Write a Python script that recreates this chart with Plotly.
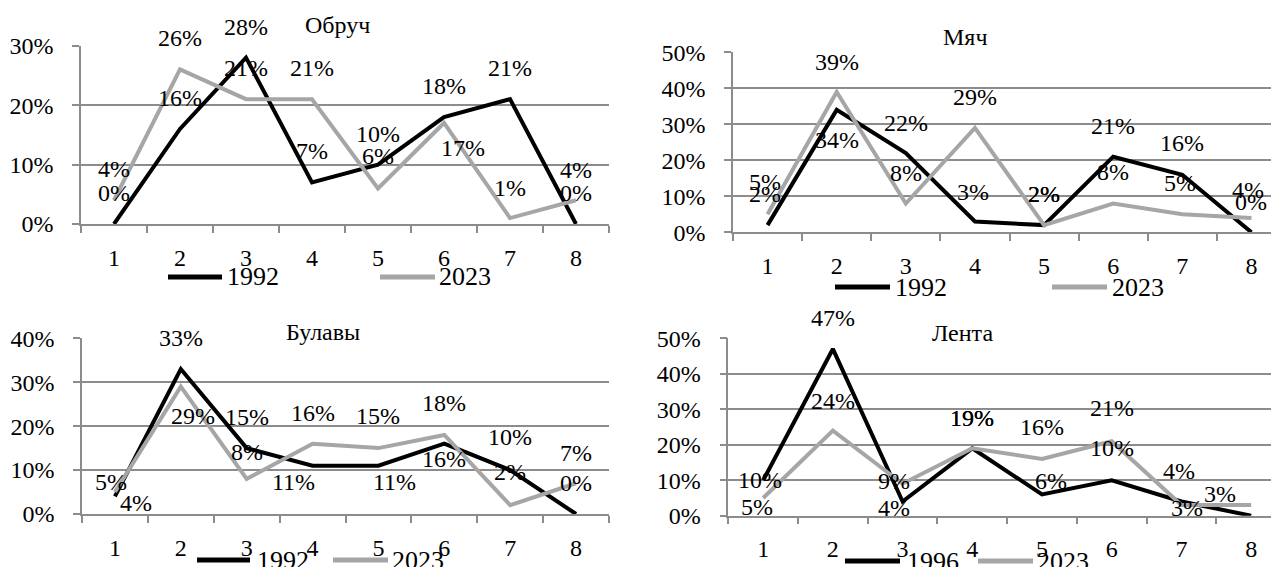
import plotly.graph_objects as go

# ---------------- data ----------------
categories = ["1", "2", "3", "4", "5", "6", "7", "8"]

hoop_title = "Обруч"
hoop_1992 = [0, 16, 28, 7, 10, 18, 21, 0]
hoop_2023 = [4, 26, 21, 21, 6, 17, 1, 4]

ball_title = "Мяч"
ball_1992 = [2, 34, 22, 3, 2, 21, 16, 0]
ball_2023 = [5, 39, 8, 29, 2, 8, 5, 4]

clubs_title = "Булавы"
clubs_1992 = [4, 33, 15, 11, 11, 16, 10, 0]
clubs_2023 = [5, 29, 8, 16, 15, 18, 2, 7]

ribbon_title = "Лента"
ribbon_1996 = [10, 47, 4, 19, 6, 10, 4, 0]
ribbon_2023 = [5, 24, 9, 19, 16, 21, 3, 3]

# ---------------- styles / label offsets (pixels) ----------------
W, H = 1279, 567
OFF = 8  # page body margin
FONT = "Liberation Serif"
BLACK = "#000000"
GRAY = "#a6a6a6"
GRID = "#8c8c8c"
FS = 24

hoop_1992_off = [(0, 31)] * 8
hoop_2023_off = [(0, 31), (0, 31), (0, 31), (0, 31), (0, 32), (19, -25), (0, 30), (0, 30)]
ball_1992_off = [(-3, 31), (0, -30), (0, 30), (-2, 29), (0, 31), (0, 31), (0, 32), (0, 30)]
ball_2023_off = [(-3, 32), (0, 30), (0, 30), (0, 31), (0, 31), (0, 31), (-2, 31), (-3, 28)]
clubs_1992_off = [(21, -7), (0, 31), (0, 31), (-19, -16), (16, -16), (0, -15), (0, 33), (0, 31)]
clubs_2023_off = [(-4, 10), (12, -29), (0, 27), (0, 31), (0, 32), (0, 32), (0, 33), (0, 30)]
ribbon_1996_off = [(-3, 0), (0, 31), (-9, -6), (0, 30), (9, 13), (0, 32), (-2, 31), None]
ribbon_2023_off = [(-6, -9), (0, 30), (-9, 3), (0, 30), (0, 32), (0, 33), (6, -3), (-31, 11)]


def px_x(p):
    return (p - OFF) / W


def px_y(p):
    return 1 - (p - OFF) / H


panels = [
    dict(title=hoop_title, s1=("1992", hoop_1992, hoop_1992_off), s2=("2023", hoop_2023, hoop_2023_off),
         xdom=(81, 609), xr=(-0.5, 7.5), ydom=(224, 45.7), yr=(0, 30),
         tpos=(337, 25), leg=[(168, 222, 225, 277), (380, 435, 437, 277)]),
    dict(title=ball_title, s1=("1992", ball_1992, ball_1992_off), s2=("2023", ball_2023, ball_2023_off),
         xdom=(733, 1286), xr=(-0.5, 7.5), ydom=(232.3, 52.3), yr=(0, 50),
         tpos=(965, 37), leg=[(835, 890, 893, 287), (1052, 1107, 1110, 287)]),
    dict(title=clubs_title, s1=("1992", clubs_1992, clubs_1992_off), s2=("2023", clubs_2023, clubs_2023_off),
         xdom=(82, 609), xr=(-0.5, 7.5), ydom=(514, 338.3), yr=(0, 40),
         tpos=(323, 332), leg=[(197, 250, 255, 560), (333, 388, 390, 560)]),
    dict(title=ribbon_title, s1=("1996", ribbon_1996, ribbon_1996_off), s2=("2023", ribbon_2023, ribbon_2023_off),
         xdom=(728.3, 1286), xr=(-0.5, 7.5), ydom=(515.7, 338.3), yr=(0, 50),
         tpos=(962, 333), leg=[(845, 900, 905, 561), (978, 1033, 1035, 561)]),
]

fig = go.Figure()
annotations = []
shapes = []

for i, p in enumerate(panels, start=1):
    xa = "x" if i == 1 else f"x{i}"
    ya = "y" if i == 1 else f"y{i}"
    xkey = "xaxis" if i == 1 else f"xaxis{i}"
    ykey = "yaxis" if i == 1 else f"yaxis{i}"

    for (name, vals, offs), color in ((p["s1"], BLACK), (p["s2"], GRAY)):
        fig.add_trace(go.Scatter(
            x=categories, y=vals, mode="lines", name=name, showlegend=False,
            line=dict(color=color, width=4), xaxis=xa, yaxis=ya, hoverinfo="skip"))
        for idx, (v, off) in enumerate(zip(vals, offs)):
            if off is None:
                continue
            annotations.append(dict(
                x=idx, y=v, xref=xa, yref=ya, text=f"{v}%", showarrow=False,
                xshift=off[0], yshift=off[1],
                font=dict(family=FONT, size=FS, color="#000")))

    fig.update_layout({
        xkey: dict(domain=[px_x(p["xdom"][0]), min(1.0, px_x(p["xdom"][1]))], anchor=ya,
                   type="category", range=list(p["xr"]), tickson="boundaries",
                   showgrid=False, zeroline=False, showline=True, linecolor=GRID, linewidth=1.5,
                   ticks="outside", ticklen=7, tickcolor=GRID, tickwidth=1.5,
                   ticklabelstandoff=11, automargin=False,
                   tickfont=dict(family=FONT, size=FS, color="#000"), fixedrange=True),
        ykey: dict(domain=[px_y(p["ydom"][0]), px_y(p["ydom"][1])], anchor=xa,
                   range=list(p["yr"]), dtick=10, ticksuffix="%",
                   showgrid=True, gridcolor=GRID, gridwidth=1.5, zeroline=False,
                   showline=True, linecolor=GRID, linewidth=1.5,
                   ticks="outside", ticklen=7, tickcolor=GRID, tickwidth=1.5,
                   ticklabelstandoff=14, automargin=False,
                   tickfont=dict(family=FONT, size=FS, color="#000"), fixedrange=True),
    })

    annotations.append(dict(
        x=px_x(p["tpos"][0]), y=px_y(p["tpos"][1]), xref="paper", yref="paper",
        text=p["title"], showarrow=False, xanchor="center", yanchor="middle",
        font=dict(family=FONT, size=FS, color="#000")))

    for (x0, x1, tx, ly), (name, _, _), color in zip(p["leg"], (p["s1"], p["s2"]), (BLACK, GRAY)):
        shapes.append(dict(type="line", xref="paper", yref="paper",
                           x0=px_x(x0), x1=px_x(x1), y0=px_y(ly), y1=px_y(ly),
                           line=dict(color=color, width=5)))
        annotations.append(dict(
            x=px_x(tx), y=px_y(ly), xref="paper", yref="paper", text=name,
            showarrow=False, xanchor="left", yanchor="middle",
            font=dict(family=FONT, size=26, color="#000")))

fig.update_layout(
    width=W, height=H, margin=dict(l=0, r=0, t=0, b=0, autoexpand=False),
    paper_bgcolor="white", plot_bgcolor="white",
    annotations=annotations, shapes=shapes, showlegend=False,
    font=dict(family=FONT, size=FS, color="#000"),
)

fig.write_html("out.html")
